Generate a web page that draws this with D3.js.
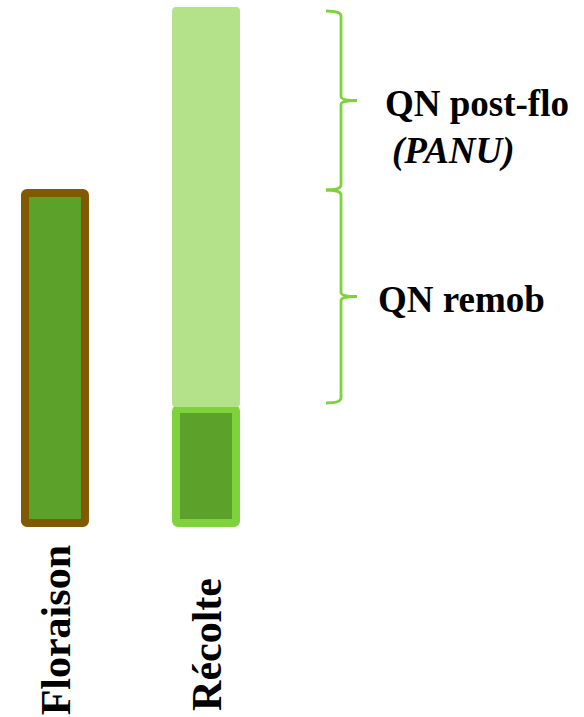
<!DOCTYPE html>
<html><head><meta charset="utf-8">
<script src="https://cdn.jsdelivr.net/npm/d3@7"></script>
<style>body{margin:0;background:#fff}</style>
</head><body>
<svg id="c" width="584" height="717"></svg>
<script>
var stages = ["Floraison", "Récolte"]
var labelStart = [545, 578]
var floraisonN = [338]
var remobN = [122]
var postFloN = [398]
var braceLabels = [["QN post-flo", "(PANU)"], ["QN remob"]]

var svg = d3.select("#c")
var y = d3.scaleLinear().domain([0, 520]).range([527, 7])
var x = d3.scaleBand().domain(stages).range([21, 240]).paddingInner(0.55).paddingOuter(0)
var bw = x.bandwidth()

// floraison bar, brown outline
svg.append("rect")
    .attr("x", x("Floraison") + 4).attr("y", y(floraisonN[0]) + 4)
    .attr("width", bw - 8).attr("height", y(0) - y(floraisonN[0]) - 8)
    .attr("rx", 2)
    .attr("fill", "#5ba12a").attr("stroke", "#7f5a00").attr("stroke-width", 8)

// recolte: remob part, then post-flo part on top
var totN = remobN[0] + postFloN[0]
svg.append("rect")
    .attr("x", x("Récolte") + 4).attr("y", y(remobN[0]) + 4)
    .attr("width", bw - 8).attr("height", y(0) - y(remobN[0]) - 8)
    .attr("rx", 2)
    .attr("fill", "#5ba12a").attr("stroke", "#7ed23c").attr("stroke-width", 8)
svg.append("rect")
    .attr("x", x("Récolte")).attr("y", y(totN))
    .attr("width", bw).attr("height", y(remobN[0]) - y(totN) + 2)
    .attr("rx", 4).attr("fill", "#b3e28a")

// braces
function brace(y0, y1) {
    var xs = 341, ym = (y0 + y1) / 2
    return "M326," + y0 + " Q341," + y0 + " " + xs + "," + (y0 + 5) +
        " L" + xs + "," + (ym - 4) + " Q" + xs + "," + ym + " 357," + ym +
        " Q" + xs + "," + ym + " " + xs + "," + (ym + 4) +
        " L" + xs + "," + (y1 - 5) + " Q341," + y1 + " 326," + y1
}
var b1 = [y(totN) + 4, 190], b2 = [190, y(remobN[0]) - 2]
;[b1, b2].forEach(function(b) {
    svg.append("path").attr("d", brace(b[0], b[1]))
        .attr("fill", "none").attr("stroke", "#7ed23c").attr("stroke-width", 2.8)
})

var tf = "'Liberation Serif', 'Times New Roman', serif"
svg.append("text").attr("x", 385).attr("y", 116).text(braceLabels[0][0])
    .style("font-family", tf).style("font-weight", "bold").style("font-size", "37px")
svg.append("text").attr("x", 392).attr("y", 163).text(braceLabels[0][1])
    .style("font-family", tf).style("font-weight", "bold").style("font-style", "italic").style("font-size", "37px")
svg.append("text").attr("x", 378).attr("y", 312).text(braceLabels[1][0])
    .style("font-family", tf).style("font-weight", "bold").style("font-size", "37px")

// rotated category labels
stages.forEach(function(s, i) {
    svg.append("text")
        .attr("transform", "translate(" + (x(s) + bw / 2 + 15) + "," + labelStart[i] + ") rotate(-90)")
        .attr("text-anchor", "end")
        .text(s)
        .style("font-family", tf).style("font-weight", "bold").style("font-size", "42px")
})
</script>
</body></html>
